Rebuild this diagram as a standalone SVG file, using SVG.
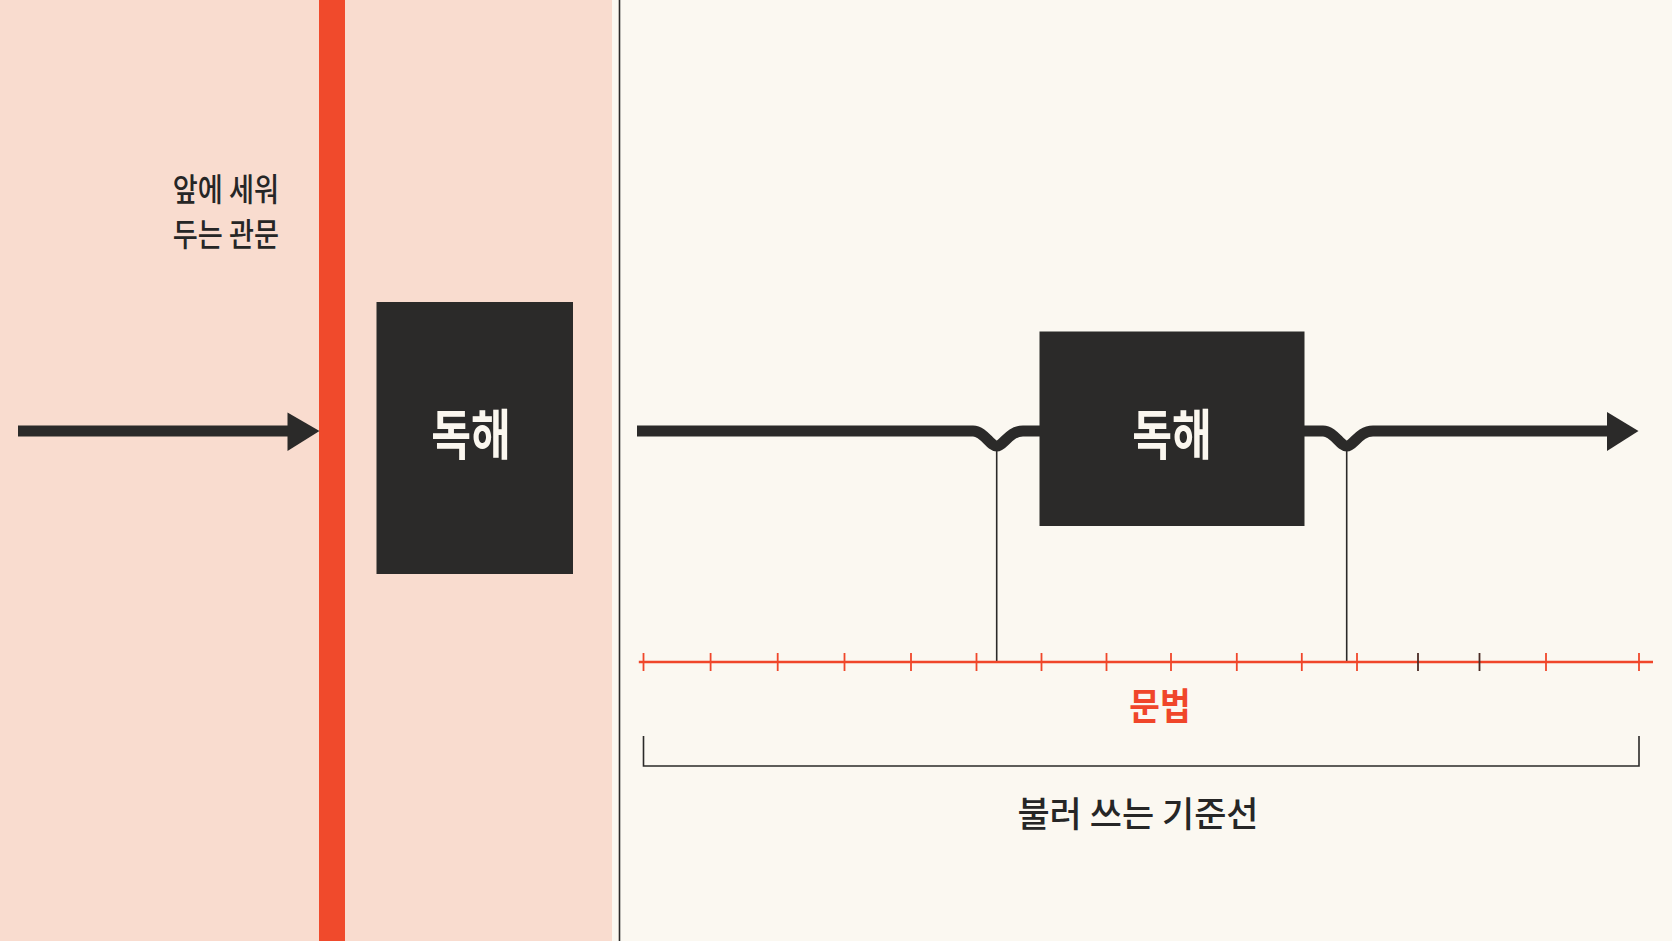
<svg xmlns="http://www.w3.org/2000/svg" width="1672" height="941" viewBox="0 0 1672 941">
<style>
.lbl{font-family:"Noto Sans CJK KR","Noto Sans",sans-serif;}
.dark{fill:#2b2a29;}
.boxtxt{fill:#fbf7ef;font-weight:700;font-size:54px;text-anchor:middle;}
.flow{fill:none;stroke:#2b2a29;stroke-width:11;}
.thin{stroke:#2b2a29;stroke-width:1.6;fill:none;}
.tick{stroke:#f0462a;stroke-width:1.8;}
.tickd{stroke:#4a2a24;stroke-width:1.8;}
</style>
<rect x="0" y="0" width="1672" height="941" fill="#fbf8f1"/>
<rect id="gate-panel" x="0" y="0" width="612" height="941" fill="#f9dccf"/>
<line x1="619.5" y1="0" x2="619.5" y2="941" stroke="#2b2a29" stroke-width="1.6"/>
<rect id="gate-bar" x="319" y="0" width="26" height="941" fill="#f04a2c"/>
<g id="gate-label" class="lbl" font-size="32" font-weight="500" fill="#262626" text-anchor="end">
<text transform="translate(279,201) scale(0.85,1)">앞에 세워</text>
<text transform="translate(279,246) scale(0.85,1)">두는 관문</text>
</g>
<g id="connectors">
<rect x="18" y="425.5" width="272" height="11" class="dark"/>
<polygon points="287.5,412.5 319.5,431 287.5,451" class="dark"/>
<path class="flow" d="M637 431 H973 C984 431 990 446 996.7 446 C1003.5 446 1009 431 1023 431 H1042"/>
<path class="flow" d="M1302 431 H1323 C1334 431 1340 446 1346.7 446 C1353.5 446 1359 431 1373 431 H1612"/>
<polygon points="1607,412 1638.5,431 1607,451" class="dark"/>
<line class="thin" x1="996.7" y1="448" x2="996.7" y2="662"/>
<line class="thin" x1="1346.7" y1="448" x2="1346.7" y2="662"/>
<line x1="638.8" y1="662" x2="1653" y2="662" stroke="#f0462a" stroke-width="2.6"/>
<g class="tick">
<line x1="643.5" y1="653" x2="643.5" y2="671"/>
<line x1="710.6" y1="653" x2="710.6" y2="671"/>
<line x1="777.7" y1="653" x2="777.7" y2="671"/>
<line x1="844.5" y1="653" x2="844.5" y2="671"/>
<line x1="911" y1="653" x2="911" y2="671"/>
<line x1="976.5" y1="653" x2="976.5" y2="671"/>
<line x1="1041.5" y1="653" x2="1041.5" y2="671"/>
<line x1="1106.5" y1="653" x2="1106.5" y2="671"/>
<line x1="1171" y1="653" x2="1171" y2="671"/>
<line x1="1236.8" y1="653" x2="1236.8" y2="671"/>
<line x1="1301.8" y1="653" x2="1301.8" y2="671"/>
<line x1="1357" y1="653" x2="1357" y2="671"/>
<line x1="1546" y1="653" x2="1546" y2="671"/>
<line x1="1639" y1="653" x2="1639" y2="671"/>
</g>
<g class="tickd">
<line x1="1418" y1="653" x2="1418" y2="671"/>
<line x1="1479.5" y1="653" x2="1479.5" y2="671"/>
</g>
<path class="thin" stroke-width="2.2" d="M643.5 736 V766 H1639 V736"/>
</g>
<g id="node-dokhae-left">
<rect x="376.5" y="302" width="196.5" height="272" class="dark"/>
<text class="lbl boxtxt" transform="translate(471,455) scale(0.8,1)">독해</text>
</g>
<g id="node-dokhae-right">
<rect x="1039.5" y="331.5" width="265" height="194.5" class="dark"/>
<text class="lbl boxtxt" transform="translate(1172,455) scale(0.8,1)">독해</text>
</g>
<g id="grammar-label">
<text class="lbl" transform="translate(1160,720) scale(0.9,1)" font-size="37" font-weight="700" fill="#f0462a" text-anchor="middle">문법</text>
</g>
<g id="baseline-label">
<text class="lbl" x="1138" y="827" font-size="35" font-weight="500" fill="#262626" text-anchor="middle">불러 쓰는 기준선</text>
</g>
</svg>
